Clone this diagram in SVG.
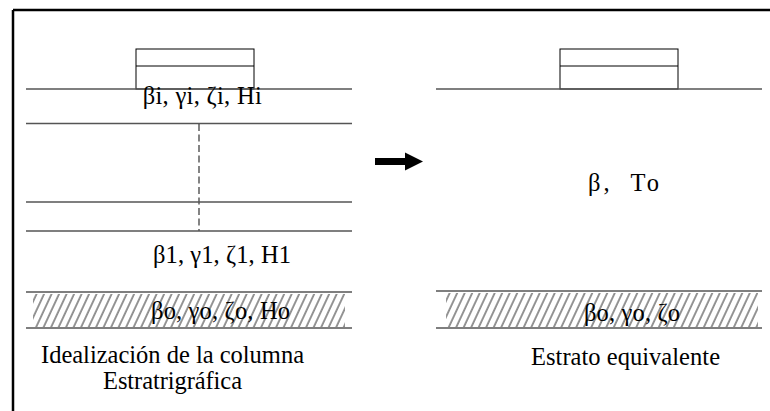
<svg xmlns="http://www.w3.org/2000/svg" width="770" height="411" viewBox="0 0 770 411">
<style>
.frame{stroke:#000;stroke-width:2.5;fill:none}
.layer{stroke:#555;stroke-width:1.3;fill:none}
.box{stroke:#000;stroke-width:1;fill:#fff}
.dash{stroke:#333;stroke-width:1.2;stroke-dasharray:7 3.5;fill:none}
text{font-family:"Liberation Serif",serif;font-size:24.5px;fill:#000}
</style>
<defs>
<pattern id="hatch" patternUnits="userSpaceOnUse" width="6.8" height="10" patternTransform="rotate(25)">
<line x1="1" y1="0" x2="1" y2="10" stroke="#111" stroke-width="0.9"/>
</pattern>
<marker id="ah" viewBox="0 0 10 10" refX="0" refY="5" markerWidth="2.6" markerHeight="2.6" orient="auto" markerUnits="strokeWidth">
<path d="M0,0 L10,5 L0,10 z" fill="#000"/>
</marker>
</defs>

<g id="frame">
<line class="frame" x1="13" y1="10" x2="770" y2="10"/>
<line class="frame" x1="13" y1="10" x2="13" y2="411"/>
</g>

<g id="left-column">
<rect class="box" x="136" y="49" width="118" height="40"/>
<line class="box" x1="136" y1="66" x2="254" y2="66"/>
<line class="layer" x1="26" y1="89" x2="352" y2="89"/>
<text x="142.7" y="104.3" font-family="Liberation Serif, serif" font-size="24.5" textLength="119">βi, γi, ζi, Hi</text>
<line class="layer" x1="26" y1="123.5" x2="352" y2="123.5"/>
<line class="dash" x1="199" y1="124" x2="199" y2="231"/>
<line class="layer" x1="26" y1="202" x2="352" y2="202"/>
<line class="layer" x1="26" y1="231" x2="352" y2="231"/>
<text x="153" y="262.7" font-family="Liberation Serif, serif" font-size="24.5" textLength="138">β1, γ1, ζ1, H1</text>
</g>

<g id="left-base">
<rect x="33" y="294" width="312" height="33" fill="url(#hatch)"/>
<line class="layer" x1="26" y1="292" x2="352" y2="292"/>
<line class="layer" x1="26" y1="328" x2="352" y2="328"/>
<text x="151" y="318.5" font-family="Liberation Serif, serif" font-size="24.5" textLength="139">βo, γo, ζo, Ho</text>
</g>

<g id="left-caption">
<text x="41" y="363.3" font-family="Liberation Serif, serif" font-size="24.5" textLength="263">Idealización de la columna</text>
<text x="103" y="389" font-family="Liberation Serif, serif" font-size="24.5" textLength="139">Estratrigráfica</text>
</g>

<g id="connectors">
<path d="M375,161.5 H405" stroke="#000" stroke-width="7" fill="none" marker-end="url(#ah)"/>
</g>

<g id="right-column">
<rect class="box" x="560" y="49" width="118" height="40"/>
<line class="box" x1="560" y1="66" x2="678" y2="66"/>
<line class="layer" x1="436" y1="89" x2="762" y2="89"/>
<text x="588" y="191" font-family="Liberation Serif, serif" font-size="24.5" textLength="71" style="white-space:pre">β,  To</text>
</g>

<g id="right-base">
<rect x="446" y="293" width="312" height="34" fill="url(#hatch)"/>
<line class="layer" x1="436" y1="291" x2="762" y2="291"/>
<line class="layer" x1="436" y1="328" x2="762" y2="328"/>
<text x="584" y="321" font-family="Liberation Serif, serif" font-size="24.5" textLength="96">βo, γo, ζo</text>
</g>

<g id="right-caption">
<text x="531" y="365" font-family="Liberation Serif, serif" font-size="24.5" textLength="189">Estrato equivalente</text>
</g>
</svg>
